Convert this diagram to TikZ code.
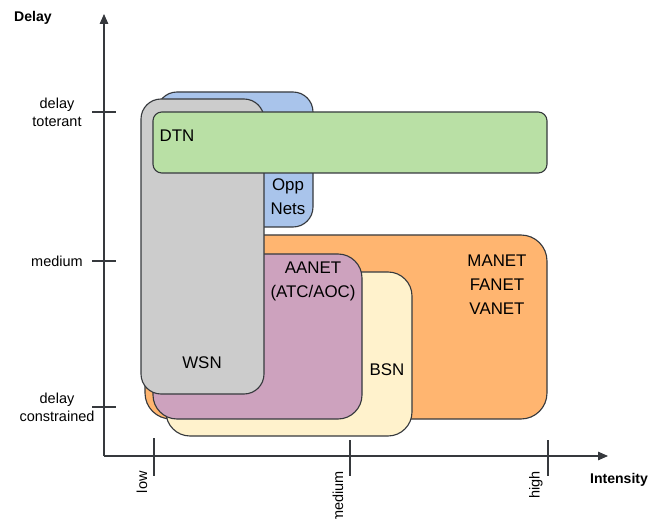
\documentclass[tikz,border=0pt]{standalone}
\usepackage{fontspec}
\setmainfont{Liberation Sans}
\definecolor{NetOrange}{HTML}{FFB570}
\definecolor{NetYellow}{HTML}{FFF2CC}
\definecolor{NetPurple}{HTML}{CDA2BE}
\definecolor{NetBlue}{HTML}{A9C4EB}
\definecolor{NetGray}{HTML}{CCCCCC}
\definecolor{NetGreen}{HTML}{B9E0A5}
\definecolor{EdgeDark}{HTML}{36393D}
\usetikzlibrary{arrows.meta, positioning}

\begin{document}
\begin{tikzpicture}[x=0.025cm, y=-0.025cm,
    region/.style={draw=EdgeDark, line width=0.8pt},
    axis/.style={draw=EdgeDark, line width=0.8pt, -{Triangle[length=7pt, width=6pt]}},
    tick/.style={draw=EdgeDark, line width=0.8pt},
    netlabel/.style={inner sep=0pt, align=center, font=\fontsize{12}{17}\selectfont},
    ticklabel/.style={inner sep=0pt, align=center, font=\fontsize{10.3}{12.8}\selectfont},
    axislabel/.style={inner sep=0pt, font=\fontsize{10}{12}\selectfont\bfseries}]
      \useasboundingbox (0,0) rectangle (660,519);
      % areas, back to front
      \draw[region, fill=NetOrange, rounded corners=0.65cm] (145,235) rectangle (547,419);
      \draw[region, fill=NetYellow, rounded corners=0.6cm] (166,272) rectangle (412,436);
      \draw[region, fill=NetPurple, rounded corners=0.6cm] (153,254) rectangle (362,419);
      \draw[region, fill=NetBlue, rounded corners=0.5cm] (157,92) rectangle (313,227);
      \draw[region, fill=NetGray, rounded corners=0.5cm] (141,99) rectangle (264,394);
      \draw[region, fill=NetGreen, rounded corners=0.22cm] (153,112) rectangle (547,173);
      \node[netlabel] (dtn) at (177,136) {DTN};
      \node[netlabel] (opp) at (288,197) {Opp\\Nets};
      \node[netlabel] (wsn) at (202,363) {WSN};
      \node[netlabel] (aanet) at (313,281) {AANET\\(ATC/AOC)};
      \node[netlabel] (bsn) at (387,370) {BSN};
      \node[netlabel] (manet) at (497,285) {MANET\\FANET\\VANET};
      % axes
      \coordinate (origin) at (104,456);
      \coordinate (ytip) at (104,14);
      \coordinate (xtip) at (608,456);
      \draw[axis] (origin) -- (ytip);
      \draw[axis] (origin) -- (xtip);
      \node[axislabel] (delay) at (33,18) {Delay};
      \node[axislabel] (intensity) at (619,480) {Intensity};
      % delay ticks
      \foreach \name/\ypos/\txt in {tolerant/112/{delay\\toterant}, mid/261/medium, constr/407/{delay\\constrained}}{
        \draw[tick] (92,\ypos) -- (116,\ypos);
        \node[ticklabel] (d-\name) at (57,\ypos) {\txt};
      }
      % intensity ticks
      \foreach \name/\xpos/\ytop/\txt in {low/154/438/low, mid/350/440/medium, high/548/440/high}{
        \draw[tick] (\xpos,\ytop) -- (\xpos,476);
        \node[ticklabel, rotate=90, anchor=east] (i-\name) at (\xpos-12,471) {\txt};
      }
\end{tikzpicture}
\end{document}
